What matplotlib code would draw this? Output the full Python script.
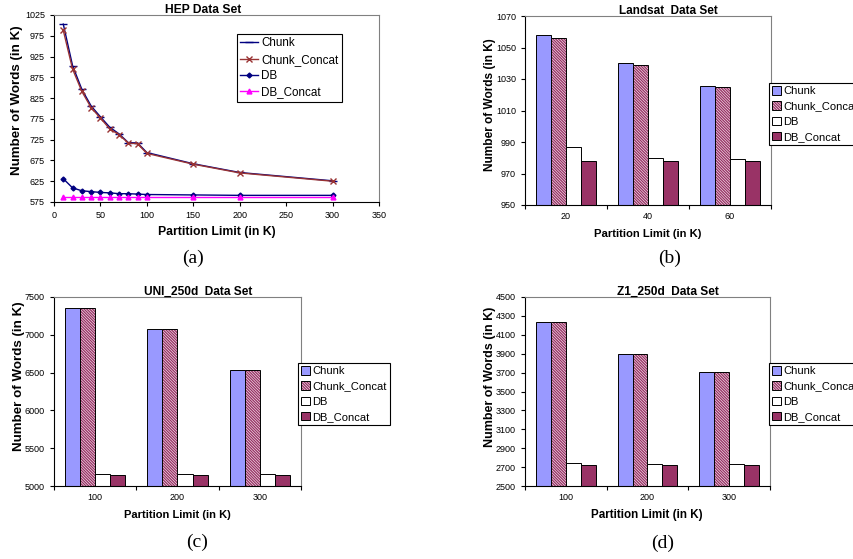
import numpy as np
import matplotlib.pyplot as plt
from matplotlib.patches import Patch
from matplotlib.legend_handler import HandlerTuple

plt.rcParams["font.family"] = ["Liberation Sans", "DejaVu Sans"]
plt.rcParams["hatch.linewidth"] = 1.0

# HEP data set (line chart)
hep_limits = [10, 20, 30, 40, 50, 60, 70, 80, 90, 100, 150, 200, 300]
hep_chunk = [1003, 903, 846, 806, 780, 755, 739, 718, 717, 694, 667, 646, 626]
hep_chunk_concat = [988, 895, 841, 802, 777, 751, 737, 717, 715, 692, 666, 645, 625]
hep_db = [631, 609, 602, 600, 598, 597, 595, 595, 594, 593, 592, 591, 591]
hep_db_concat = [587] * 13

# bar chart data sets
series_names = ["Chunk", "Chunk_Concat", "DB", "DB_Concat"]

landsat_limits = ["20", "40", "60"]
landsat_chunk = [1058, 1040, 1025.5]
landsat_chunk_concat = [1056, 1039, 1025]
landsat_db = [987, 980, 979]
landsat_db_concat = [978, 978, 978]

uni_limits = ["100", "200", "300"]
uni_chunk = [7360, 7080, 6540]
uni_chunk_concat = [7358, 7078, 6540]
uni_db = [5165, 5165, 5165]
uni_db_concat = [5150, 5150, 5150]

z1_limits = ["100", "200", "300"]
z1_chunk = [4237, 3893, 3703]
z1_chunk_concat = [4235, 3893, 3703]
z1_db = [2740, 2733, 2733]
z1_db_concat = [2722, 2722, 2722]

W, H = 854, 559
fig = plt.figure(figsize=(W / 100, H / 100), dpi=100)

BLUE = "#9999ff"
PLUM = "#993366"
HATCH = "\\" * 12


def px_axes(left, top, right, bottom):
    return fig.add_axes([left / W, 1 - bottom / H, (right - left) / W, (bottom - top) / H])


def ftext(x, y, s, **kw):
    fig.text(x / W, 1 - y / H, s, **kw)


def style_axes(ax):
    ax.spines["top"].set_color("#808080")
    ax.spines["right"].set_color("#808080")
    for s in ("left", "bottom"):
        ax.spines[s].set_color("black")
    for s in ax.spines.values():
        s.set_linewidth(0.8)
    ax.tick_params(axis="both", labelsize=6.5, length=3, width=0.8, direction="out")


def bar_chart(ax, cats, chunk, chunk_c, db, db_c, ymin, ymax, ystep):
    x = np.arange(len(cats))
    w = 0.183
    offs = [-1.5 * w, -0.5 * w, 0.5 * w, 1.5 * w]
    ax.bar(x + offs[0], chunk, w, color=BLUE, edgecolor="black", linewidth=0.7)
    ax.bar(x + offs[1], chunk_c, w, color="white", edgecolor=PLUM, hatch=HATCH, linewidth=0)
    ax.bar(x + offs[1], chunk_c, w, color="none", edgecolor="black", linewidth=0.7)
    ax.bar(x + offs[2], db, w, color="white", edgecolor="black", linewidth=0.7)
    ax.bar(x + offs[3], db_c, w, color=PLUM, edgecolor="black", linewidth=0.7)
    ax.set_xlim(-0.5, len(cats) - 0.5)
    ax.set_ylim(ymin, ymax)
    ax.set_yticks(np.arange(ymin, ymax + 1, ystep))
    ax.set_xticks(np.arange(len(cats) + 1) - 0.5)
    ax.set_xticklabels([])
    ax.set_xticks(x, minor=True)
    ax.set_xticklabels(cats, minor=True)
    ax.tick_params(axis="x", which="minor", length=0, labelsize=6.5, pad=5)
    style_axes(ax)


def bar_legend(x, y):
    hatch_p = Patch(facecolor="white", edgecolor=PLUM, hatch=HATCH, linewidth=0)
    outline = Patch(facecolor="none", edgecolor="black", linewidth=0.7)
    handles = [
        Patch(facecolor=BLUE, edgecolor="black", linewidth=0.7),
        (hatch_p, outline),
        Patch(facecolor="white", edgecolor="black", linewidth=0.7),
        Patch(facecolor=PLUM, edgecolor="black", linewidth=0.7),
    ]
    leg = fig.legend(handles, series_names, loc="upper left", bbox_to_anchor=(x / W, 1 - y / H),
                     fontsize=8, fancybox=False, edgecolor="black", framealpha=1,
                     handlelength=0.8, handleheight=0.8, handletextpad=0.2,
                     borderpad=0.3, labelspacing=0.45, borderaxespad=0,
                     handler_map={tuple: HandlerTuple(ndivide=1, pad=0)})
    leg.get_frame().set_linewidth(0.8)


# (a) HEP line chart
ax = px_axes(54, 15, 379, 202)
ax.plot(hep_limits, hep_chunk, color="#000080", marker="_", ms=6, lw=1, label="Chunk")
ax.plot(hep_limits, hep_chunk_concat, color="#993333", marker="x", ms=4, mew=1, lw=1,
        label="Chunk_Concat")
ax.plot(hep_limits, hep_db, color="#000080", marker="D", ms=2.5, lw=1, label="DB")
ax.plot(hep_limits, hep_db_concat, color="#ff00ff", marker="^", ms=3.5, lw=1, label="DB_Concat")
ax.set_xlim(0, 350)
ax.set_ylim(575, 1025)
ax.set_xticks(np.arange(0, 351, 50))
ax.set_yticks(np.arange(575, 1026, 50))
style_axes(ax)
leg = ax.legend(loc="upper left", bbox_to_anchor=(0.563, 0.9), fontsize=8.4, fancybox=False,
                edgecolor="black", framealpha=1, handlelength=1.5, handletextpad=0.3,
                borderpad=0.3, labelspacing=0.38, borderaxespad=0)
leg.get_frame().set_linewidth(0.8)

# (b) Landsat
ax = px_axes(525, 16, 771, 205)
bar_chart(ax, landsat_limits, landsat_chunk, landsat_chunk_concat, landsat_db,
          landsat_db_concat, 950, 1070, 20)
bar_legend(769, 83)

# (c) UNI_250d
ax = px_axes(54, 297, 301, 486)
bar_chart(ax, uni_limits, uni_chunk, uni_chunk_concat, uni_db, uni_db_concat, 5000, 7500, 500)
bar_legend(298, 363)

# (d) Z1_250d
ax = px_axes(525, 297, 770, 486)
bar_chart(ax, z1_limits, z1_chunk, z1_chunk_concat, z1_db, z1_db_concat, 2500, 4500, 200)
bar_legend(769, 363)

# titles, axis labels and captions
bold = dict(fontweight="bold", ha="center", va="center")
ftext(203, 10, "HEP Data Set", fontsize=8.7, **bold)
ftext(668, 11, "Landsat  Data Set", fontsize=8.5, **bold)
ftext(198, 292, "UNI_250d  Data Set", fontsize=8.6, **bold)
ftext(668, 292, "Z1_250d  Data Set", fontsize=8.6, **bold)

for (x, y, fs) in [(217, 232, 8.8), (648, 234, 8.1), (177, 515, 8.0), (647, 515, 8.4)]:
    ftext(x, y, "Partition Limit (in K)", fontsize=fs, **bold)
for (x, y, fs) in [(17, 100, 9.6), (490, 105, 8.6), (19, 376, 9.6), (490, 377, 9.0)]:
    ftext(x, y, "Number of Words (in K)", rotation=90, fontsize=fs, **bold)

cap = dict(fontsize=14, family=["Liberation Serif", "DejaVu Serif"], ha="center", va="center")
ftext(193, 258, "(a)", **cap)
ftext(670, 258, "(b)", **cap)
ftext(197, 542, "(c)", **cap)
ftext(663, 543, "(d)", **cap)

fig.savefig("out.png", dpi=100)
